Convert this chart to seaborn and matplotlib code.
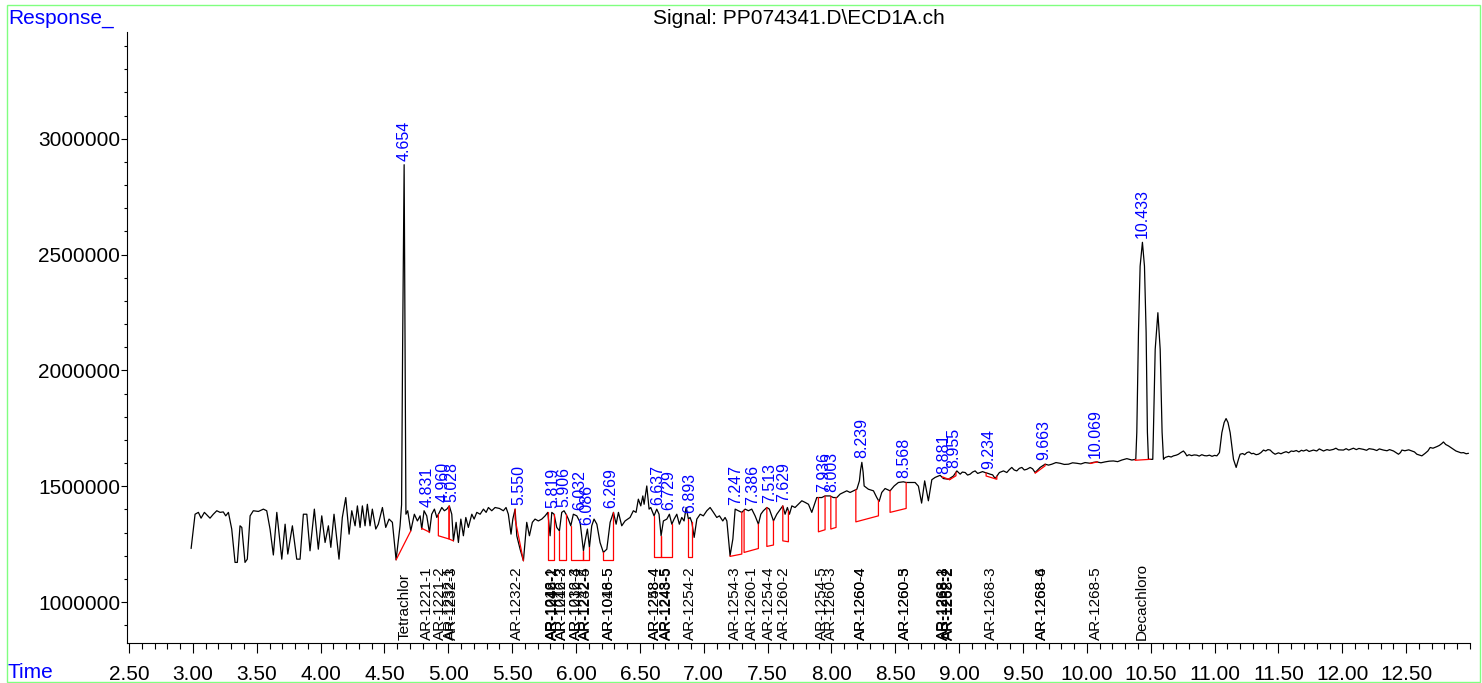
import numpy as np
import pandas as pd
import seaborn as sns
import matplotlib.pyplot as plt
import matplotlib.transforms as mtransforms
from matplotlib.patches import Rectangle
from matplotlib.ticker import FixedLocator, MultipleLocator, FuncFormatter

# chromatogram trace (min, response)
time = [
    2.986, 3.017, 3.043, 3.064, 3.090, 3.116, 3.134, 3.160, 3.187, 3.213,
    3.238, 3.257, 3.278, 3.304, 3.330, 3.348, 3.369, 3.383, 3.408, 3.426,
    3.448, 3.473, 3.513, 3.552, 3.578, 3.604, 3.630, 3.657, 3.696, 3.722,
    3.743, 3.779, 3.813, 3.839, 3.865, 3.892, 3.917, 3.951, 3.982, 4.009,
    4.035, 4.061, 4.080, 4.105, 4.144, 4.170, 4.197, 4.223, 4.244, 4.270,
    4.288, 4.309, 4.327, 4.348, 4.366, 4.387, 4.405, 4.432, 4.452, 4.484,
    4.510, 4.536, 4.562, 4.591, 4.622, 4.634, 4.642, 4.654, 4.661, 4.668,
    4.682, 4.706, 4.734, 4.758, 4.779, 4.792, 4.810, 4.831, 4.852, 4.870,
    4.891, 4.910, 4.930, 4.949, 4.969, 4.988, 5.008, 5.027, 5.040, 5.061,
    5.079, 5.098, 5.118, 5.137, 5.157, 5.184, 5.202, 5.223, 5.249, 5.275,
    5.296, 5.314, 5.340, 5.366, 5.400, 5.431, 5.452, 5.470, 5.491, 5.505,
    5.523, 5.536, 5.562, 5.588, 5.614, 5.635, 5.658, 5.679, 5.705, 5.732,
    5.758, 5.779, 5.797, 5.810, 5.828, 5.849, 5.870, 5.888, 5.906, 5.922,
    5.940, 5.959, 5.979, 6.006, 6.032, 6.058, 6.071, 6.089, 6.105, 6.123,
    6.141, 6.163, 6.188, 6.214, 6.241, 6.267, 6.293, 6.314, 6.332, 6.358,
    6.384, 6.423, 6.449, 6.470, 6.488, 6.507, 6.523, 6.533, 6.554, 6.572,
    6.585, 6.611, 6.632, 6.650, 6.666, 6.684, 6.711, 6.731, 6.750, 6.768,
    6.789, 6.809, 6.828, 6.846, 6.862, 6.880, 6.893, 6.907, 6.925, 6.946,
    6.972, 6.997, 7.024, 7.050, 7.076, 7.102, 7.123, 7.149, 7.167, 7.181,
    7.206, 7.228, 7.246, 7.271, 7.298, 7.324, 7.350, 7.376, 7.402, 7.428,
    7.447, 7.467, 7.494, 7.514, 7.546, 7.572, 7.592, 7.619, 7.637, 7.655,
    7.671, 7.690, 7.715, 7.741, 7.768, 7.794, 7.820, 7.846, 7.859, 7.885,
    7.924, 7.950, 7.989, 8.015, 8.042, 8.068, 8.094, 8.120, 8.146, 8.172,
    8.199, 8.219, 8.228, 8.238, 8.248, 8.256, 8.289, 8.329, 8.355, 8.373,
    8.394, 8.420, 8.459, 8.491, 8.524, 8.563, 8.585, 8.616, 8.655, 8.681,
    8.706, 8.730, 8.759, 8.786, 8.812, 8.851, 8.877, 8.916, 8.955, 8.982,
    9.008, 9.025, 9.047, 9.066, 9.086, 9.105, 9.125, 9.145, 9.164, 9.183,
    9.203, 9.222, 9.242, 9.262, 9.282, 9.315, 9.347, 9.373, 9.392, 9.412,
    9.431, 9.451, 9.471, 9.491, 9.510, 9.530, 9.556, 9.575, 9.595, 9.634,
    9.673, 9.700, 9.726, 9.758, 9.790, 9.823, 9.856, 9.888, 9.921, 9.953,
    9.986, 10.026, 10.052, 10.078, 10.110, 10.143, 10.175, 10.208, 10.241, 10.274,
    10.313, 10.352, 10.383, 10.391, 10.404, 10.417, 10.435, 10.451, 10.464, 10.474,
    10.482, 10.516, 10.521, 10.535, 10.556, 10.574, 10.589, 10.600, 10.613, 10.640,
    10.660, 10.678, 10.700, 10.717, 10.735, 10.756, 10.770, 10.783, 10.800, 10.820,
    10.840, 10.861, 10.880, 10.900, 10.920, 10.939, 10.960, 10.980, 11.000, 11.018,
    11.038, 11.057, 11.075, 11.090, 11.105, 11.122, 11.148, 11.169, 11.187, 11.200,
    11.220, 11.235, 11.253, 11.270, 11.290, 11.304, 11.325, 11.343, 11.363, 11.383,
    11.400, 11.418, 11.435, 11.455, 11.474, 11.500, 11.520, 11.539, 11.560, 11.580,
    11.600, 11.618, 11.640, 11.660, 11.680, 11.696, 11.720, 11.740, 11.774, 11.800,
    11.820, 11.853, 11.880, 11.900, 11.931, 11.950, 11.970, 12.009, 12.030, 12.050,
    12.087, 12.110, 12.130, 12.166, 12.190, 12.210, 12.244, 12.270, 12.290, 12.322,
    12.350, 12.370, 12.401, 12.420, 12.440, 12.455, 12.467, 12.490, 12.520, 12.545,
    12.565, 12.584, 12.605, 12.623, 12.635, 12.649, 12.670, 12.688, 12.710, 12.741,
    12.760, 12.779, 12.792, 12.810, 12.831, 12.850, 12.871, 12.890, 12.910, 12.930,
    12.949, 12.970, 12.988,
]
response = [
    1231000, 1379000, 1387000, 1362000, 1387000, 1372000, 1362000, 1379000, 1394000, 1387000,
    1389000, 1372000, 1387000, 1315000, 1171000, 1171000, 1329000, 1322000, 1171000, 1185000,
    1372000, 1394000, 1391000, 1401000, 1394000, 1315000, 1203000, 1387000, 1185000, 1336000,
    1207000, 1329000, 1185000, 1185000, 1379000, 1379000, 1221000, 1401000, 1228000, 1372000,
    1257000, 1329000, 1236000, 1379000, 1185000, 1365000, 1451000, 1293000, 1394000, 1329000,
    1415000, 1322000, 1415000, 1329000, 1422000, 1329000, 1401000, 1315000, 1336000, 1408000,
    1322000, 1358000, 1344000, 1182000, 1329000, 1420000, 2091000, 2888000, 2091000, 1379000,
    1394000, 1307000, 1379000, 1350000, 1372000, 1315000, 1394000, 1372000, 1300000, 1379000,
    1401000, 1365000, 1387000, 1408000, 1394000, 1401000, 1415000, 1379000, 1264000, 1344000,
    1257000, 1358000, 1286000, 1365000, 1322000, 1379000, 1358000, 1387000, 1379000, 1401000,
    1387000, 1408000, 1394000, 1408000, 1404000, 1394000, 1408000, 1379000, 1293000, 1358000,
    1401000, 1286000, 1228000, 1178000, 1344000, 1286000, 1344000, 1358000, 1350000, 1358000,
    1372000, 1387000, 1286000, 1387000, 1379000, 1322000, 1307000, 1387000, 1394000, 1379000,
    1358000, 1329000, 1379000, 1372000, 1344000, 1221000, 1264000, 1315000, 1236000, 1329000,
    1358000, 1336000, 1257000, 1214000, 1228000, 1344000, 1387000, 1336000, 1387000, 1329000,
    1350000, 1365000, 1394000, 1387000, 1444000, 1415000, 1458000, 1422000, 1501000, 1401000,
    1408000, 1372000, 1401000, 1379000, 1286000, 1350000, 1358000, 1379000, 1336000, 1358000,
    1379000, 1336000, 1365000, 1350000, 1408000, 1358000, 1365000, 1344000, 1279000, 1358000,
    1379000, 1372000, 1394000, 1408000, 1387000, 1365000, 1372000, 1350000, 1365000, 1350000,
    1200000, 1272000, 1401000, 1394000, 1387000, 1401000, 1394000, 1401000, 1372000, 1336000,
    1379000, 1394000, 1408000, 1401000, 1350000, 1379000, 1394000, 1415000, 1379000, 1408000,
    1379000, 1415000, 1408000, 1422000, 1437000, 1430000, 1422000, 1387000, 1408000, 1451000,
    1451000, 1458000, 1458000, 1451000, 1451000, 1466000, 1473000, 1480000, 1473000, 1480000,
    1487000, 1523000, 1570000, 1603000, 1560000, 1501000, 1487000, 1480000, 1451000, 1434000,
    1473000, 1490000, 1480000, 1501000, 1516000, 1519000, 1516000, 1516000, 1516000, 1500000,
    1427000, 1523000, 1437000, 1528000, 1538000, 1547000, 1533000, 1530000, 1544000, 1566000,
    1552000, 1561000, 1559000, 1548000, 1552000, 1561000, 1566000, 1555000, 1559000, 1563000,
    1559000, 1556000, 1552000, 1549000, 1533000, 1559000, 1566000, 1559000, 1571000, 1581000,
    1570000, 1566000, 1577000, 1581000, 1570000, 1573000, 1581000, 1575000, 1559000, 1581000,
    1595000, 1591000, 1595000, 1602000, 1599000, 1594000, 1595000, 1601000, 1599000, 1596000,
    1602000, 1599000, 1603000, 1605000, 1601000, 1605000, 1608000, 1609000, 1606000, 1613000,
    1619000, 1613000, 1616000, 1733000, 2164000, 2450000, 2553000, 2450000, 2164000, 1733000,
    1616000, 1616000, 1733000, 2091000, 2249000, 2091000, 1733000, 1616000, 1624000, 1629000,
    1626000, 1631000, 1634000, 1638000, 1645000, 1652000, 1643000, 1631000, 1636000, 1632000,
    1635000, 1634000, 1630000, 1636000, 1632000, 1631000, 1634000, 1629000, 1633000, 1631000,
    1645000, 1731000, 1775000, 1792000, 1775000, 1731000, 1616000, 1581000, 1616000, 1638000,
    1641000, 1636000, 1645000, 1648000, 1640000, 1642000, 1636000, 1638000, 1645000, 1656000,
    1652000, 1658000, 1656000, 1645000, 1638000, 1644000, 1640000, 1645000, 1649000, 1644000,
    1652000, 1650000, 1654000, 1648000, 1655000, 1652000, 1657000, 1650000, 1656000, 1652000,
    1661000, 1652000, 1658000, 1655000, 1659000, 1664000, 1657000, 1656000, 1662000, 1656000,
    1664000, 1658000, 1663000, 1659000, 1655000, 1662000, 1659000, 1654000, 1661000, 1656000,
    1653000, 1658000, 1652000, 1645000, 1638000, 1645000, 1656000, 1653000, 1657000, 1652000,
    1648000, 1638000, 1634000, 1631000, 1636000, 1642000, 1652000, 1667000, 1664000, 1671000,
    1676000, 1684000, 1691000, 1680000, 1674000, 1667000, 1659000, 1652000, 1648000, 1644000,
    1645000, 1640000, 1642000,
]

# integrated peaks: retention time, baseline start/end (min) and baseline values
peak_rt = [4.654, 4.831, 4.960, 5.028, 5.550, 5.819, 5.906, 6.032, 6.086, 6.269,
           6.637, 6.729, 6.893, 7.247, 7.386, 7.513, 7.629, 7.936, 8.003, 8.239,
           8.568, 8.881, 8.955, 9.234, 9.663, 10.069, 10.433]
peak_start = [4.591, 4.792, 4.922, 5.006, 5.523, 5.779, 5.870, 5.959, 6.058, 6.214,
              6.611, 6.666, 6.880, 7.206, 7.316, 7.494, 7.619, 7.898, 7.995, 8.191,
              8.459, 8.870, 8.925, 9.211, 9.595, 10.026, 10.378]
peak_end = [4.706, 4.852, 5.006, 5.040, 5.588, 5.828, 5.922, 6.058, 6.105, 6.293,
            6.666, 6.750, 6.907, 7.298, 7.428, 7.546, 7.663, 7.950, 8.036, 8.368,
            8.585, 8.925, 8.975, 9.295, 9.673, 10.083, 10.495]
base_start = [1182000, 1318000, 1286000, 1272000, 1358000, 1182000, 1182000, 1182000, 1182000, 1183000,
              1193000, 1193000, 1193000, 1197000, 1214000, 1240000, 1264000, 1303000, 1315000, 1346000,
              1387000, 1540000, 1528000, 1544000, 1556000, 1598000, 1612000]
base_end = [1307000, 1302000, 1272000, 1264000, 1178000, 1182000, 1182000, 1182000, 1182000, 1183000,
            1193000, 1193000, 1193000, 1207000, 1231000, 1246000, 1260000, 1312000, 1322000, 1372000,
            1404000, 1528000, 1545000, 1530000, 1588000, 1605000, 1616000]

# expected compound windows printed along the time axis
compound_rt = [4.654, 4.830, 4.936, 5.012, 5.026, 5.538,
               5.810, 5.814, 5.818, 5.888, 5.892, 5.996, 6.000, 6.070, 6.074,
               6.256, 6.260, 6.618, 6.622, 6.706, 6.710, 6.893,
               7.246, 7.379, 7.512, 7.629, 7.927, 7.997, 8.230, 8.234,
               8.574, 8.578, 8.876, 8.880, 8.916, 8.920, 9.248,
               9.648, 9.652, 10.071, 10.430]
compound_names = ["Tetrachlor", "AR-1221-1", "AR-1221-2", "AR-1232-1", "AR-1232-3", "AR-1232-2",
                  "AR-1016-1", "AR-1242-1", "AR-1248-2", "AR-1016-2", "AR-1242-3", "AR-1016-3", "AR-1232-4",
                  "AR-1242-4", "AR-1232-5", "AR-1016-5", "AR-1048-5", "AR-1248-4", "AR-1258-4",
                  "AR-1248-5", "AR-1243-5", "AR-1254-2",
                  "AR-1254-3", "AR-1260-1", "AR-1254-4", "AR-1260-2", "AR-1254-5", "AR-1260-3",
                  "AR-1260-4", "AR-1260-4", "AR-1260-5", "AR-1260-3", "AR-1268-1", "AR-1268-3",
                  "AR-1262-2", "AR-1268-2", "AR-1268-3", "AR-1268-4", "AR-1268-6", "AR-1268-5",
                  "Decachloro"]

sns.set_style("ticks")
plt.rcParams["font.family"] = ["Liberation Sans", "DejaVu Sans"]

df = pd.DataFrame({"Time": time, "Response": response})
t = np.array(time)
r = np.array(response)

fig = plt.figure(figsize=(14.82, 6.83), dpi=100)
ax = fig.add_axes([127 / 1482, 40 / 683, 1343 / 1482, 611 / 683])

sns.lineplot(data=df, x="Time", y="Response", color="black", linewidth=0.9,
             estimator=None, sort=False, ax=ax)

# baselines of the integrated peaks
for ts, te, bs, be in zip(peak_start, peak_end, base_start, base_end):
    ys = np.interp(ts, t, r)
    ye = np.interp(te, t, r)
    ax.plot([ts, ts, te, te], [ys, bs, be, ye], color="red", linewidth=0.9)

# retention time labels above each peak
for rt, ts, te in zip(peak_rt, peak_start, peak_end):
    m = (t >= ts) & (t <= te)
    top = max(np.interp(ts, t, r), np.interp(te, t, r))
    if m.any():
        top = max(top, r[m].max())
    ax.annotate(f"{rt:.3f}", xy=(rt, top), xytext=(0, 3), textcoords="offset points",
                rotation=90, ha="center", va="bottom", color="blue", fontsize=11.5)

trans = mtransforms.blended_transform_factory(ax.transData, ax.transAxes)
for rt, name in zip(compound_rt, compound_names):
    ax.text(rt, 0.005, name, rotation=90, ha="center", va="bottom",
            fontsize=11, color="black", transform=trans)

ax.set_xlim(2.484, 13.0)
ax.set_ylim(823000, 3461000)
ax.xaxis.set_major_locator(FixedLocator(np.arange(2.5, 12.51, 0.5)))
ax.xaxis.set_minor_locator(MultipleLocator(0.1))
ax.xaxis.set_major_formatter(FuncFormatter(lambda v, p: f"{v:.2f}"))
ax.yaxis.set_major_locator(MultipleLocator(500000))
ax.yaxis.set_minor_locator(MultipleLocator(100000))
ax.yaxis.set_major_formatter(FuncFormatter(lambda v, p: f"{v:.0f}"))
ax.set_xlabel("")
ax.set_ylabel("")
sns.despine(ax=ax)
for s in ["left", "bottom"]:
    ax.spines[s].set_linewidth(0.8)
    ax.spines[s].set_color("black")
ax.tick_params(axis="both", which="both", direction="out", width=0.8, colors="black", labelsize=15)
ax.tick_params(axis="x", which="major", length=7, pad=9)
ax.tick_params(axis="x", which="minor", length=4)
ax.tick_params(axis="y", which="major", length=4, pad=1)
ax.tick_params(axis="y", which="minor", length=2.5)

fig.text(8 / 1482, 1 - 18 / 683, "Response_", color="blue", fontsize=15, ha="left", va="center")
fig.text(8 / 1482, 1 - 672 / 683, "Time", color="blue", fontsize=15, ha="left", va="center")
fig.text(798.5 / 1482, 1 - 19 / 683, "Signal: PP074341.D\\ECD1A.ch", color="black",
         fontsize=15, ha="center", va="center")

fig.add_artist(Rectangle((6.5 / 1482, 1.5 / 683), 1473 / 1482, 677 / 683,
                         transform=fig.transFigure, fill=False, edgecolor="#80ff80", linewidth=1))

fig.savefig("out.png", dpi=100)
